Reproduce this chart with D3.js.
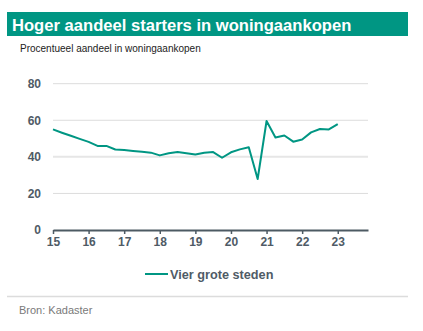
<!DOCTYPE html>
<html>
<head>
<meta charset="utf-8">
<script src="https://cdn.jsdelivr.net/npm/d3@7"></script>
<style>
  body { margin: 0; background: #fff; }
  svg { display: block; font-family: "Liberation Sans", Arial, sans-serif; }
</style>
</head>
<body>
<svg id="chart" width="423" height="331"></svg>
<script>
const TITLE = "Hoger aandeel starters in woningaankopen";
const SUBTITLE = "Procentueel aandeel in woningaankopen";
const SOURCE = "Bron: Kadaster";
const SERIES_NAME = "Vier grote steden";

// quarterly, starting 2015 Q1
const quarters = d3.range(33).map((i) => 15 + i / 4);
const shares = [
  55, 53.2, 51.5, 49.8, 48.2, 46, 46, 44, 43.7, 43.2, 42.8, 42.3,
  40.8, 42, 42.7, 42, 41.3, 42.2, 42.6, 39.5, 42.5, 44.1, 45.2, 27.9,
  59.6, 50.6, 51.7, 48.3, 49.5, 53.4, 55.2, 55, 57.9,
];
const xTicks = [15, 16, 17, 18, 19, 20, 21, 22, 23];
const yTicks = [0, 20, 40, 60, 80];

const TEAL = "#009683";
const AXIS_TEXT = "#4f5b66";

const svg = d3.select("#chart");

// title bar
svg.append("rect")
  .attr("x", 7).attr("y", 12).attr("width", 401).attr("height", 24)
  .attr("fill", TEAL);
svg.append("text")
  .attr("x", 12).attr("y", 30.5)
  .attr("fill", "#fff").attr("font-size", 16.6).attr("font-weight", "bold")
  .text(TITLE);
svg.append("text")
  .attr("x", 20).attr("y", 52)
  .attr("fill", "#222").attr("font-size", 10)
  .text(SUBTITLE);

const x = d3.scaleLinear().domain([15, 23.85]).range([53, 368]);
const y = d3.scaleLinear().domain([0, 80]).range([230, 83.7]);

// gridlines
svg.append("g")
  .selectAll("line")
  .data(yTicks.filter((d) => d > 0))
  .join("line")
  .attr("x1", 53).attr("x2", 368)
  .attr("y1", (d) => y(d)).attr("y2", (d) => y(d))
  .attr("stroke", (d) => (d === 40 ? "#e6e6e6" : "#dcdcdc"))
  .attr("stroke-width", (d) => (d === 40 ? 2 : 1));

// y axis labels
const yAxis = svg.append("g")
  .attr("transform", "translate(53,0)")
  .call(d3.axisLeft(y).tickValues(yTicks).tickSize(0).tickPadding(12));
yAxis.select(".domain").remove();
yAxis.selectAll("text")
  .attr("font-family", null)
  .attr("font-size", 12).attr("font-weight", "bold").attr("fill", AXIS_TEXT);

// x axis
const xAxis = svg.append("g")
  .attr("transform", "translate(0,230)")
  .call(d3.axisBottom(x).tickValues(xTicks).tickSize(4).tickSizeOuter(0).tickPadding(3));
xAxis.select(".domain").attr("stroke", "#4d5a63").attr("stroke-width", 2);
xAxis.selectAll(".tick line").attr("stroke", "#4d5a63").attr("stroke-width", 1.5);
xAxis.selectAll("text")
  .attr("font-family", null)
  .attr("font-size", 12).attr("font-weight", "bold").attr("fill", AXIS_TEXT);

// series line
const line = d3.line()
  .x((d, i) => x(quarters[i]))
  .y((d) => y(d));
svg.append("path")
  .datum(shares)
  .attr("d", line)
  .attr("fill", "none")
  .attr("stroke", TEAL)
  .attr("stroke-width", 2)
  .attr("stroke-linejoin", "round");

// legend
svg.append("line")
  .attr("x1", 145).attr("x2", 168).attr("y1", 274).attr("y2", 274)
  .attr("stroke", TEAL).attr("stroke-width", 2);
svg.append("text")
  .attr("x", 170).attr("y", 278.5)
  .attr("font-size", 12.7).attr("font-weight", "bold").attr("fill", AXIS_TEXT)
  .text(SERIES_NAME);

// footer
svg.append("line")
  .attr("x1", 7).attr("x2", 408).attr("y1", 296.5).attr("y2", 296.5)
  .attr("stroke", "#dcdcdc").attr("stroke-width", 1.5);
svg.append("text")
  .attr("x", 19).attr("y", 314)
  .attr("font-size", 11).attr("fill", "#7a7a7a")
  .text(SOURCE);
</script>
</body>
</html>
